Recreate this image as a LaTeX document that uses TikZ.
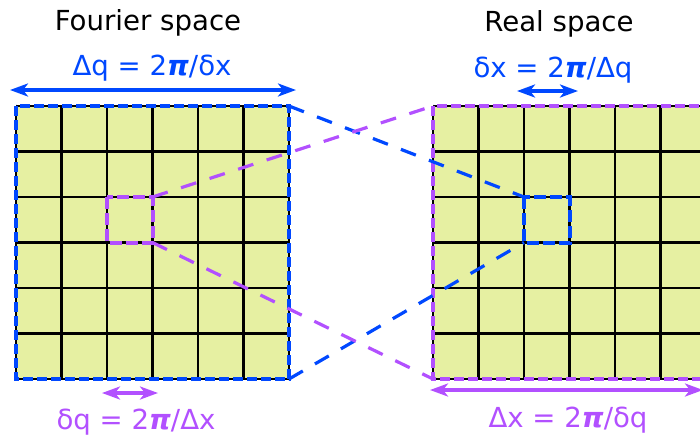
\documentclass[tikz,border=0pt]{standalone}
\usepackage{fontspec}
\setmainfont{DejaVu Sans}
\usetikzlibrary{arrows.meta}

\definecolor{cellfill}{RGB}{230,240,162}
\definecolor{qblue}{RGB}{0,72,255}
\definecolor{xpurple}{RGB}{178,80,255}

\tikzset{
  gridline/.style={black, line width=1.2pt},
  edgedash/.style={line width=2pt, dash pattern=on 5pt off 2pt},
  boxdash/.style={line width=2pt, dash pattern=on 6pt off 2pt},
  link/.style={line width=1.6pt, dash pattern=on 8pt off 7pt},
  dimarrow/.style={line width=2pt,
    {Stealth[length=9pt,width=6.5pt,inset=2.5pt]}-{Stealth[length=9pt,width=6.5pt,inset=2.5pt]}},
  lbl/.style={font=\fontsize{13.8}{16}\selectfont, anchor=base, inner sep=0pt},
}

\begin{document}
\begin{tikzpicture}[x=0.5pt,y=-0.5pt]
    \useasboundingbox (0,0) rectangle (700,440);
    % Fourier space grid
    \fill[cellfill] (16,106) rectangle (289,379);
    \foreach \i in {0,...,6} {
      \draw[gridline] ({16+45.5*\i},106) -- ({16+45.5*\i},379);
      \draw[gridline] (16,{106+45.5*\i}) -- (289,{106+45.5*\i});
    }
    \coordinate (q-nw) at (16,106);
    \coordinate (q-ne) at (289,106);
    \coordinate (q-se) at (289,379);
    \draw[edgedash, qblue] (q-nw) rectangle (q-se);
    % Real space grid
    \fill[cellfill] (433,106) rectangle (706,379);
    \foreach \i in {0,...,6} {
      \draw[gridline] ({433+45.5*\i},106) -- ({433+45.5*\i},379);
      \draw[gridline] (433,{106+45.5*\i}) -- (706,{106+45.5*\i});
    }
    \coordinate (x-nw) at (433,106);
    \coordinate (x-sw) at (433,379);
    \coordinate (x-se) at (706,379);
    \draw[edgedash, xpurple] (x-nw) rectangle (x-se);
    % small cells
    \coordinate (qbox-ne) at (152.5,197);
    \coordinate (qbox-se) at (152.5,242.5);
    \draw[boxdash, xpurple] (107,197) rectangle (qbox-se);
    \coordinate (xbox-nw) at (524,197);
    \coordinate (xbox-sw) at (524,242.5);
    \draw[boxdash, qblue] (xbox-nw) rectangle (569.5,242.5);
    % links between the spaces
    \draw[link, qblue] (q-ne) -- (xbox-nw);
    \draw[link, qblue] (q-se) -- (xbox-sw);
    \draw[link, xpurple] (qbox-ne) -- (x-nw);
    \draw[link, xpurple] (qbox-se) -- (x-sw);
    % titles
    \node[lbl] (ftitle) at (148,30) {Fourier space};
    \node[lbl] (rtitle) at (559,31) {Real space};
    % widths and steps
    \coordinate (dq-l) at (10,90);
    \coordinate (dq-r) at (296,90);
    \draw[dimarrow, qblue] (dq-l) -- (dq-r);
    \node[lbl, text=qblue] (dqlbl) at (152,75) {Δq = 2{\bfseries\itshape π}/δx};
    \coordinate (dx-l) at (517,91);
    \coordinate (dx-r) at (578,91);
    \draw[dimarrow, qblue] (dx-l) -- (dx-r);
    \node[lbl, text=qblue] (dxlbl) at (553,77) {δx = 2{\bfseries\itshape π}/Δq};
    \coordinate (sq-l) at (102,393);
    \coordinate (sq-r) at (158,393);
    \draw[dimarrow, xpurple] (sq-l) -- (sq-r);
    \node[lbl, text=xpurple] (sqlbl) at (136,429) {δq = 2{\bfseries\itshape π}/Δx};
    \coordinate (bx-l) at (430,390);
    \coordinate (bx-r) at (703,390);
    \draw[dimarrow, xpurple] (bx-l) -- (bx-r);
    \node[lbl, text=xpurple] (bxlbl) at (568,427) {Δx = 2{\bfseries\itshape π}/δq};
\end{tikzpicture}
\end{document}
